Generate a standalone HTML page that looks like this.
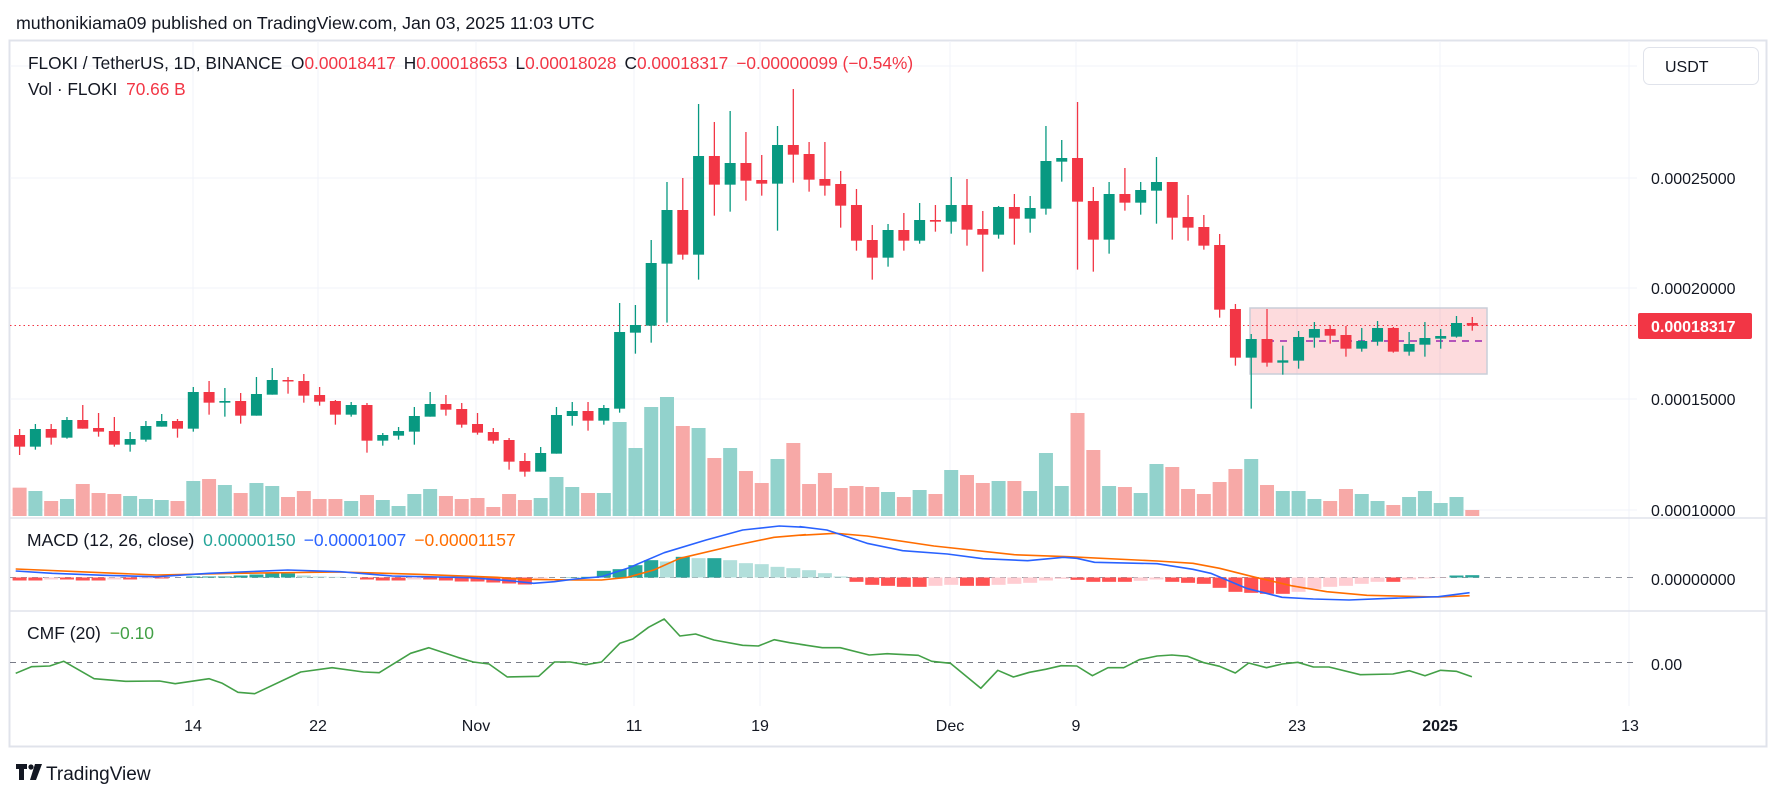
<!DOCTYPE html>
<html><head><meta charset="utf-8">
<style>
html,body{margin:0;padding:0;background:#fff;}
svg{display:block;font-family:"Liberation Sans",sans-serif;}
</style></head>
<body>
<svg id="s" width="1781" height="798" viewBox="0 0 1781 798" xmlns="http://www.w3.org/2000/svg">
<rect x="0" y="0" width="1781" height="798" fill="#fff"/>
<text x="16" y="29" font-size="17.8" fill="#131722">muthonikiama09 published on TradingView.com, Jan 03, 2025 11:03 UTC</text>
<rect x="9.5" y="40.5" width="1757" height="706" fill="#fff" stroke="#e0e3eb" stroke-width="2"/>
<g id="grid"></g>
<g id="plot"></g>
<line x1="10" y1="518" x2="1766" y2="518" stroke="#e0e3eb" stroke-width="1.5"/>
<line x1="10" y1="611" x2="1766" y2="611" stroke="#e0e3eb" stroke-width="1.5"/>
<text x="28" y="69" font-size="17.3" fill="#131722">FLOKI / TetherUS, 1D, BINANCE <tspan dx="4">O</tspan><tspan fill="#f23645">0.00018417</tspan><tspan dx="8">H</tspan><tspan fill="#f23645">0.00018653</tspan><tspan dx="8">L</tspan><tspan fill="#f23645">0.00018028</tspan><tspan dx="8">C</tspan><tspan fill="#f23645">0.00018317</tspan><tspan dx="8" fill="#f23645">−0.00000099 (−0.54%)</tspan></text>
<text x="28" y="95" font-size="17.3" fill="#131722">Vol · FLOKI <tspan dx="4" fill="#f23645">70.66 B</tspan></text>
<text x="27" y="546" font-size="17.5" fill="#131722">MACD (12, 26, close) <tspan dx="4" fill="#26a69a">0.00000150</tspan><tspan dx="8" fill="#2962ff">−0.00001007</tspan><tspan dx="8" fill="#ff6d00">−0.00001157</tspan></text>
<text x="27" y="639" font-size="17.5" fill="#131722">CMF (20) <tspan dx="4" fill="#43a047">−0.10</tspan></text>
<rect x="1643.5" y="47.5" width="115" height="37" rx="6" fill="#fff" stroke="#e0e3eb"/>
<text x="1665" y="72" font-size="16" fill="#131722">USDT</text>
<g font-size="16" fill="#131722">
<text x="1651" y="184">0.00025000</text>
<text x="1651" y="294">0.00020000</text>
<text x="1651" y="405">0.00015000</text>
<text x="1651" y="516">0.00010000</text>
<text x="1651" y="585">0.00000000</text>
<text x="1651" y="670">0.00</text>
</g>
<rect x="1638" y="313" width="114" height="26" rx="2" fill="#f23645"/>
<text x="1651" y="332" font-size="16" font-weight="bold" fill="#fff">0.00018317</text>
<g font-size="16" fill="#131722" text-anchor="middle">
<text x="193" y="731">14</text><text x="318" y="731">22</text><text x="476" y="731">Nov</text>
<text x="634" y="731">11</text><text x="760" y="731">19</text><text x="950" y="731">Dec</text>
<text x="1076" y="731">9</text><text x="1297" y="731">23</text>
<text x="1440" y="731" font-weight="bold">2025</text><text x="1630" y="731">13</text>
</g>
<g transform="translate(16,764)" fill="#131722">
<path d="M0 0h11v5h-3v11h-5v-11h-3z"/><circle cx="15" cy="3" r="2.6"/><path d="M19 0h7l-6 16h-6z"/>
</g>
<text x="46" y="780" font-size="19" fill="#131722">TradingView</text>
</svg>
<script>
(function(){
var NS="http://www.w3.org/2000/svg";
function el(p,t,a){var e=document.createElementNS(NS,t);for(var k in a)e.setAttribute(k,a[k]);p.appendChild(e);return e;}
var grid=document.getElementById('grid'),plot=document.getElementById('plot');
function X(i){return 19.6+15.79*i;}
[66,178,288,399,510].forEach(function(y){el(grid,'line',{x1:10,x2:1637,y1:y,y2:y,stroke:'#f0f3fa','stroke-width':1});});
[193,318,476,634,760,950,1076,1297,1440,1629].forEach(function(x){el(grid,'line',{x1:x,x2:x,y1:41,y2:706,stroke:'#f0f3fa','stroke-width':1});});
var G='#089981',R='#f23645';
var z4=[['R',285,320,267,345],['G',267,320,252,329],['R',267,293,252,314],['G',240,293,231,296],['R',240,266,195,266],['R',264,275,219,290],['R',273,314,231,320],['G',297,314,276,335],['G',258,299,243,305],['G',243,260,222,260],['R',243,266,237,293],['G',156,266,141,275],['R',156,188,123,224],['G',183,188,144,230],['R',183,227,159,251],['G',162,227,111,227],['G',120,164,84,164],['R',120,122,111,161],['R',123,167,102,188],['R',165,185,141,197],['R',183,224,180,254],['G',195,224,186,230],['R',195,302,189,338],['G',285,302,279,317],['G',273,287,261,299],['G',228,275,201,314],['G',192,230,156,230],['R',192,209,165,227],['R',207,254,189,263],['R',252,278,219,284],['R',276,302,264,311],['R',300,365,294,389],['R',363,395,339,410],['G',339,395,321,395],['G',225,341,201,341],['G',213,228,186,257],['R',213,242,186,272],['G',204,242,195,254]];
var z5=[['G',756,986,669,998],['G',735,758,675,821],['G',549,737,480,788],['G',390,551,306,728],['R',390,524,294,539],['G',228,524,72,599],['R',228,314,126,407],['G',249,314,93,395],['R',249,302,156,362],['R',300,311,225,347],['G',195,311,138,452],['R',195,224,27,308],['R',222,299,186,335],['R',297,317,186,347],['R',312,377,273,443],['R',375,482,327,512],['R',480,533,435,599],['G',450,533,432,560],['R',450,482,399,512],['G',420,482,369,491],['R',420,425,375,455],['G',375,425,291,461],['R',375,449,297,497],['R',447,464,393,575],['G',381,464,378,476],['R',381,416,342,494],['G',384,416,348,458],['G',243,386,138,404],['G',234,245,180,305],['R',234,365,66,569],['R',363,479,321,575],['G',342,479,306,521],['R',342,368,264,392],['G',330,368,306,404]];
var z6=[['G',306,332,231,431],['R',306,413,306,479],['R',411,443,345,482],['R',441,497,405,509],['R',495,689,462,713],['R',687,833,672,857],['G',777,833,762,986],['R',777,848,687,860],['G',841,848,797,884],['G',771,842,753,866],['G',747,773,726,803],['R',747,767,735,791],['R',765,806,738,830],['G',783,806,744,815],['G',744,785,723,797],['R',744,815,741,818],['G',792,815,756,827],['G',774,794,726,830],['G',768,776,747,806],['G',729,770,708,773],['R',729,737,711,752]];
var C=[];
z4.forEach(function(c){C.push([c[0],340+c[1]/3,340+c[2]/3,340+c[3]/3,340+c[4]/3]);});
z5.concat(z6).forEach(function(c){C.push([c[0],80+c[1]/3,80+c[2]/3,80+c[3]/3,80+c[4]/3]);});
var v4=[443,453,483,477,432,459,462,468,477,480,483,423,417,435,459,429,438,471,453,477,477,483,465,480,498,462,447,468,477,474,501,462,480,474,411,441,459,459];
var v5=[1026,1104,981,951,1038,1044,1134,1104,1173,1209,1137,1089,1212,1179,1224,1218,1221,1236,1251,1230,1242,1170,1185,1209,1203,1203,1233,1119,1218,999,1110,1218,1221,1239];
var v6=[1152,1161,1227,1242,1206,1167,1137,1215,1233,1233,1257,1263,1227,1242,1263,1275,1251,1233,1269,1251,1290];
var V=[];v4.forEach(function(v){V.push(340+v/3);});v5.concat(v6).forEach(function(v){V.push(80+v/3);});
for(var i=0;i<V.length;i++){var x=X(i);el(plot,'rect',{x:x-7,y:V[i],width:14,height:516-V[i],fill:C[i]&&C[i][0]=='G'?'#92d2cc':'#f7a9a7'});}
el(plot,'rect',{x:1250,y:308,width:237,height:66,fill:'rgba(242,54,69,0.18)',stroke:'#c9ced8','stroke-width':1.5});
el(plot,'line',{x1:1267,x2:1487,y1:341,y2:341,stroke:'#9c27b0','stroke-width':1.5,'stroke-dasharray':'7,6'});
el(plot,'line',{x1:10,x2:1637,y1:325.5,y2:325.5,stroke:'#f23645','stroke-width':1,'stroke-dasharray':'1.5,3'});
for(var i=0;i<C.length;i++){var c=C[i],x=X(i),col=c[0]=='G'?G:R;
 el(plot,'line',{x1:x,x2:x,y1:c[3],y2:c[4],stroke:col,'stroke-width':1.3});
 el(plot,'rect',{x:x-5.5,y:c[1],width:11,height:Math.max(1.5,c[2]-c[1]),fill:col});}
var h7=[-9,-9,-6,-6,-9,-9,-6,-6,-3,-3,0,3,3,3,6,9,12,12,6,3,2,1,-6,-9,-9,-6,-6,-9,-12,-12,-15,-18,-21,-3,0,1,2,20,25,37,52,48,62,58,58,52,43,40,32,28];
var h8=[22,13,3,-13,-22,-25,-28,-28,-25,-22,-25,-25,-22,-19,-16,-9,-4,-7,-13,-13,-13,-10,-6,-13,-16,-19,-31,-43,-46,-49,-49,-43,-34,-28,-25,-19,-13,-13,-6,-3,-1,6,7];
var H=h7.concat(h8),Z=577.5;
el(plot,'line',{x1:10,x2:1637,y1:Z,y2:Z,stroke:'#9598a1','stroke-width':1,'stroke-dasharray':'6,5'});
for(var i=0;i<H.length;i++){var h=H[i]/3,p=i?H[i-1]/3:0,col;
 if(h>=0)col=h>=p?'#26a69a':'#b2dfdb';else col=h<=p?'#ff5252':'#ffcdd2';
 if(Math.abs(h)<0.3)continue;
 el(plot,'rect',{x:X(i)-7,y:h>0?Z-h:Z,width:14,height:Math.abs(h),fill:col});}
function pts(a,m){return a.map(function(p){return (m[0](p[0])).toFixed(1)+','+(520+p[1]/3).toFixed(1);}).join(' ');}
var m7=[function(x){return x/1.912;}],m8=[function(x){return 800+x/2.24;}];
var b7=[[30,153],[100,160],[200,166],[300,170],[400,160],[550,150],[650,155],[750,168],[900,173],[980,183],[1020,190],[1060,185],[1100,177],[1150,170],[1200,145],[1270,98],[1350,60],[1420,30],[1490,18],[1540,22]];
var b8=[[0,20],[60,30],[150,70],[230,92],[330,102],[410,116],[510,122],[590,112],[620,115],[660,127],[800,131],[880,148],[920,160],[1000,205],[1080,232],[1150,237],[1230,240],[1300,236],[1430,230],[1500,218]];
var o7=[[30,147],[150,155],[300,165],[450,160],[650,156],[800,163],[950,172],[1000,178],[1100,180],[1150,180],[1200,172],[1250,150],[1300,115],[1400,78],[1480,52],[1540,44]];
var o8=[[0,46],[80,40],[150,48],[300,78],[480,104],[600,110],[800,123],[880,130],[940,145],[1020,172],[1100,197],[1180,215],[1270,226],[1430,231],[1500,227]];
el(plot,'polyline',{points:pts(o7,m7)+' '+pts(o8,m8),fill:'none',stroke:'#ff6d00','stroke-width':1.6,'stroke-linejoin':'round'});
el(plot,'polyline',{points:pts(b7,m7)+' '+pts(b8,m8),fill:'none',stroke:'#2962ff','stroke-width':1.6,'stroke-linejoin':'round'});
el(plot,'line',{x1:10,x2:1637,y1:662.5,y2:662.5,stroke:'#787b86','stroke-width':1,'stroke-dasharray':'6,5'});
var c7=[[30,460],[60,440],[95,438],[122,424],[180,476],[240,484],[305,483],[335,491],[400,476],[425,490],[455,517],[487,521],[575,456],[635,443],[695,456],[725,458],[785,400],[820,383],[875,412],[905,426],[935,432],[970,471],[1030,469],[1060,426],[1090,426],[1120,434],[1150,426],[1185,370],[1210,357],[1240,322],[1270,297],[1300,348],[1330,342],[1365,360],[1420,376],[1450,378],[1480,359],[1510,368],[1540,375]];
var c8=[[0,373],[50,383],[90,383],[155,405],[195,401],[265,406],[295,424],[337,430],[405,505],[443,451],[478,471],[514,457],[550,448],[585,437],[620,438],[655,467],[690,443],[725,443],[760,419],[800,408],[833,405],[868,409],[905,428],[940,439],[975,459],[1005,429],[1045,443],[1080,432],[1115,427],[1150,441],[1185,441],[1255,464],[1328,462],[1365,452],[1400,467],[1435,451],[1470,454],[1505,470]];
el(plot,'polyline',{points:pts(c7,m7)+' '+pts(c8,m8),fill:'none',stroke:'#43a047','stroke-width':1.6,'stroke-linejoin':'round'});
})();
</script>
</body></html>
